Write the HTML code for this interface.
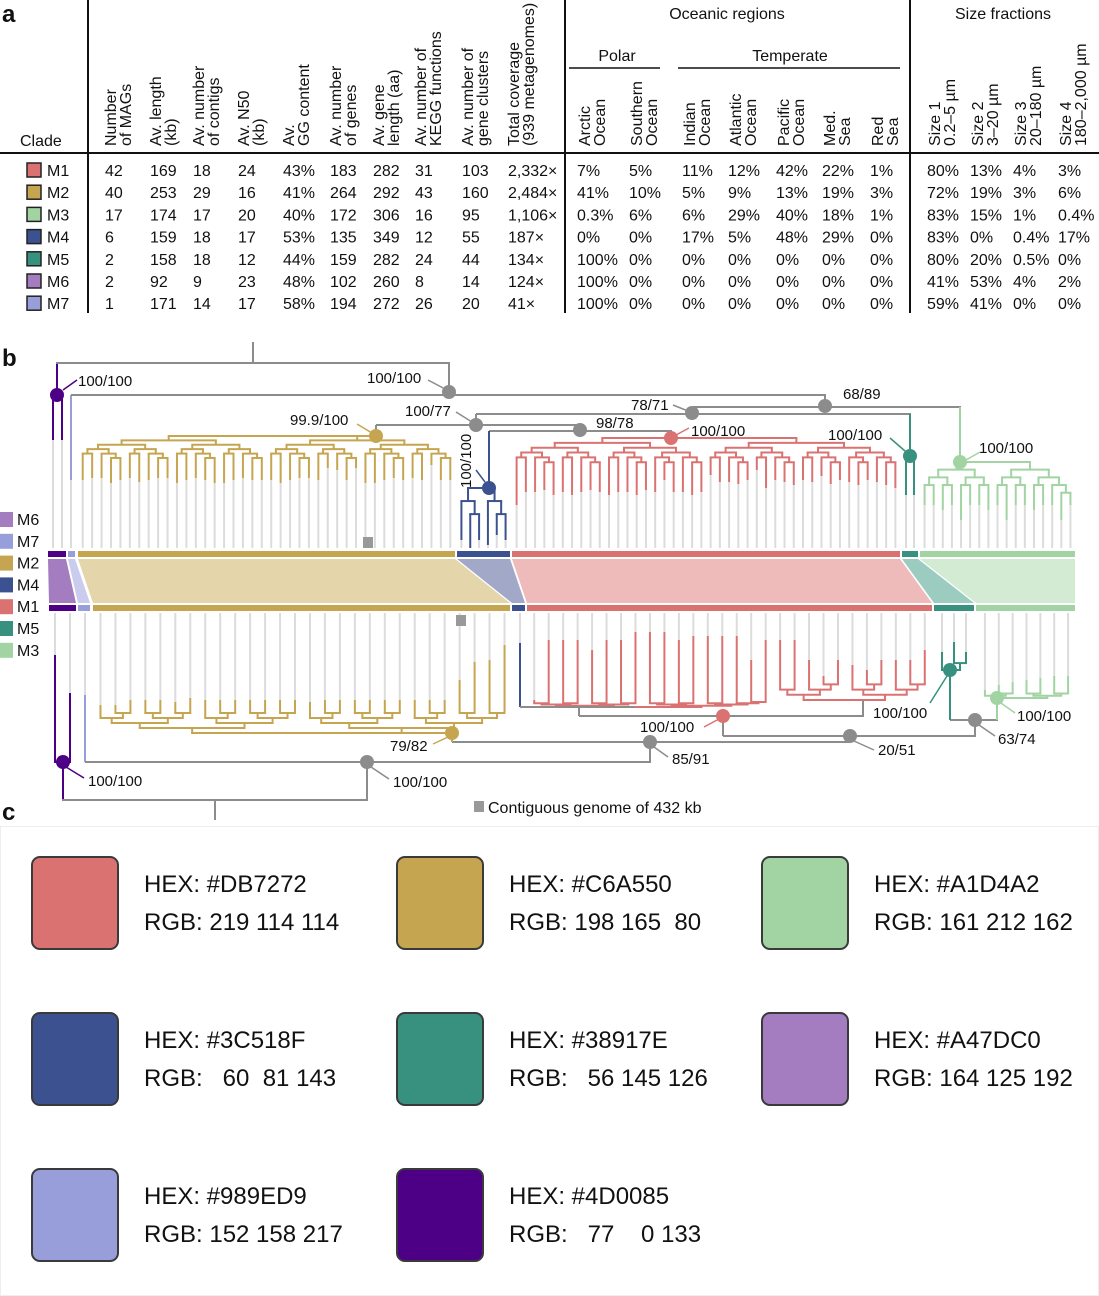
<!DOCTYPE html>
<html><head><meta charset="utf-8">
<style>
html,body{margin:0;padding:0;background:#fff;}
body{width:1099px;height:1296px;overflow:hidden;position:relative;font-family:"Liberation Sans",sans-serif;}
svg text{font-family:"Liberation Sans",sans-serif;}
.sw{position:absolute;width:84px;height:90px;border:2px solid #3a3a3a;border-radius:9px;}
.tx{position:absolute;font-family:"Liberation Sans",sans-serif;font-size:24px;color:#111;white-space:pre;line-height:38px;}
</style></head>
<body>
<svg id="fig" width="1099" height="1296" viewBox="0 0 1099 1296" style="position:absolute;left:0;top:0"></svg>

<div style="position:absolute;left:0;top:826px;width:1097px;height:468px;border:1px solid #eee;"></div>

<div class="sw" style="left:31px;top:856px;background:#DB7272"></div>
<div class="tx" style="left:144px;top:866px">HEX: #DB7272
RGB: 219 114 114</div>
<div class="sw" style="left:396px;top:856px;background:#C6A550"></div>
<div class="tx" style="left:509px;top:866px">HEX: #C6A550
RGB: 198 165  80</div>
<div class="sw" style="left:761px;top:856px;background:#A1D4A2"></div>
<div class="tx" style="left:874px;top:866px">HEX: #A1D4A2
RGB: 161 212 162</div>

<div class="sw" style="left:31px;top:1012px;background:#3C518F"></div>
<div class="tx" style="left:144px;top:1022px">HEX: #3C518F
RGB:   60  81 143</div>
<div class="sw" style="left:396px;top:1012px;background:#38917E"></div>
<div class="tx" style="left:509px;top:1022px">HEX: #38917E
RGB:   56 145 126</div>
<div class="sw" style="left:761px;top:1012px;background:#A47DC0"></div>
<div class="tx" style="left:874px;top:1022px">HEX: #A47DC0
RGB: 164 125 192</div>

<div class="sw" style="left:31px;top:1168px;background:#989ED9"></div>
<div class="tx" style="left:144px;top:1178px">HEX: #989ED9
RGB: 152 158 217</div>
<div class="sw" style="left:396px;top:1168px;background:#4D0085"></div>
<div class="tx" style="left:509px;top:1178px">HEX: #4D0085
RGB:   77    0 133</div>

<script>
const clades = ["M1","M2","M3","M4","M5","M6","M7"];
const cladeColors = ["#DB7272","#C6A550","#A1D4A2","#3C518F","#38917E","#A47DC0","#989ED9"];
const statHeaders = [["Number","of MAGs"],["Av. length","(kb)"],["Av. number","of contigs"],["Av. N50","(kb)"],["Av.","GG content"],["Av. number","of genes"],["Av. gene","length (aa)"],["Av. number of","KEGG functions"],["Av. number of","gene clusters"],["Total coverage","(939 metagenomes)"]];
const regionHeaders = [["Arctic","Ocean"],["Southern","Ocean"],["Indian","Ocean"],["Atlantic","Ocean"],["Pacific","Ocean"],["Med.","Sea"],["Red","Sea"],["Size 1","0.2–5 µm"],["Size 2","3–20 µm"],["Size 3","20–180 µm"],["Size 4","180–2,000 µm"]];
const statRows = [
 ["42","169","18","24","43%","183","282","31","103","2,332×"],
 ["40","253","29","16","41%","264","292","43","160","2,484×"],
 ["17","174","17","20","40%","172","306","16","95","1,106×"],
 ["6","159","18","17","53%","135","349","12","55","187×"],
 ["2","158","18","12","44%","159","282","24","44","134×"],
 ["2","92","9","23","48%","102","260","8","14","124×"],
 ["1","171","14","17","58%","194","272","26","20","41×"]];
const regionRows = [
 ["7%","5%","11%","12%","42%","22%","1%","80%","13%","4%","3%"],
 ["41%","10%","5%","9%","13%","19%","3%","72%","19%","3%","6%"],
 ["0.3%","6%","6%","29%","40%","18%","1%","83%","15%","1%","0.4%"],
 ["0%","0%","17%","5%","48%","29%","0%","83%","0%","0.4%","17%"],
 ["100%","0%","0%","0%","0%","0%","0%","80%","20%","0.5%","0%"],
 ["100%","0%","0%","0%","0%","0%","0%","41%","53%","4%","2%"],
 ["100%","0%","0%","0%","0%","0%","0%","59%","41%","0%","0%"]];
const statX = [105,150,193,238,283,330,373,415,462,508];
const regionX = [577,629,682,728,776,822,870,927,970,1013,1058];

const topM2Tips = [480,478,478,483,480,478,482,480,478,478,483,480,478,480,483,483,480,478,480,480,480,483,480,478,478,480,468,470,480,468,483,483,480,478,480,478,480,465,480,480];
const topM1Tips = [505,492,492,490,495,492,495,492,490,492,495,492,492,495,490,492,480,492,492,495,492,475,482,482,484,480,470,488,480,482,485,480,482,476,484,480,482,485,480,482,485,488];
const topM4Tips = [540,548,540,545,535,540];
const topM3Tips = [505,505,510,505,520,505,505,510,505,520,505,505,510,505,505,520,505];
const topM5Tips = [495,495];
const botM2Tips = [705,705,700,700,700,702,698,700,700,700,700,700,700,700,702,700,700,700,700,700,700,700,700,700,680,662,660,645];
const botM1Tips = [700,640,640,640,650,640,640,632,632,632,640,636,636,636,636,660,640,640,640,660,676,660,665,670,660,660,660,650];
const botM5Tips = [652,642,652];
const botM3Tips = [690,685,682,680,678,676,676];

const svg = document.getElementById('fig');
const NS = "http://www.w3.org/2000/svg";
function mk(tag, attrs, name, parent){
  const el = document.createElementNS(NS, tag);
  for (const k in attrs) el.setAttribute(k, attrs[k]);
  
  
  (parent||svg).appendChild(el);
  return el;
}
function line(x1,y1,x2,y2,c,w,name){ return mk('line',{x1:x1,y1:y1,x2:x2,y2:y2,stroke:c,'stroke-width':w||2,'stroke-linecap':'butt'},name||'branch'); }
function text(x,y,s,opts,name){
  const t = mk('text',Object.assign({x:x,y:y,'font-size':16,fill:'#111'},opts||{}),name||'label');
  t.textContent = s; return t;
}

text(2,22,"a",{'font-size':24,'font-weight':'bold'},'panel-a-letter');
line(88,0,88,313,'#111',2,'table-divider-left');
line(565,0,565,313,'#111',2,'table-divider-regions');
line(910,0,910,313,'#111',2,'table-divider-sizes');
line(0,153,1099,153,'#111',2,'table-header-rule');
text(20,146,"Clade",{},'clade-header');
text(727,19,"Oceanic regions",{'text-anchor':'middle'},'oceanic-regions-header');
text(1003,19,"Size fractions",{'text-anchor':'middle'},'size-fractions-header');
text(617,61,"Polar",{'text-anchor':'middle'},'polar-header');
line(569,68,660,68,'#111',1.5,'polar-rule');
text(790,61,"Temperate",{'text-anchor':'middle'},'temperate-header');
line(678,68,900,68,'#111',1.5,'temperate-rule');

function rotHeader(x, lines, name){
  lines.forEach((s,i)=>{
    const bx = x + 12 + i*15;
    const t = mk('text',{x:0,y:0,'font-size':16,fill:'#111',transform:'translate('+bx+',146) rotate(-90)'},name+'-line'+(i+1));
    t.textContent = s;
  });
}
statHeaders.forEach((h,i)=>rotHeader(statX[i]-1,h,'stat-header-'+i));
regionHeaders.forEach((h,i)=>rotHeader(regionX[i]+1,h,'region-header-'+i));

clades.forEach((c,r)=>{
  const cy = 170 + r*22.2;
  mk('rect',{x:27,y:cy-7,width:14,height:14,fill:cladeColors[r],stroke:'#222','stroke-width':1.5},'table-legend-'+c);
  text(47,cy+6,c,{},'row-label-'+c);
  statRows[r].forEach((v,j)=>text(statX[j],cy+6,v,{},'cell-'+c+'-stat'+j));
  regionRows[r].forEach((v,j)=>text(regionX[j],cy+6,v,{},'cell-'+c+'-region'+j));
});

text(2,366,"b",{'font-size':24,'font-weight':'bold'},'panel-b-letter');
text(2,820,"c",{'font-size':24,'font-weight':'bold'},'panel-c-letter');

const GRAY='#8c8c8c', TIP='#dcdcdc';
const C = {M1:'#DB7272',M2:'#C6A550',M3:'#A1D4A2',M4:'#3C518F',M5:'#38917E',M6:'#4D0085',M7:'#989ED9'};
const RIB = {M1:'#efbaba',M2:'#e4d5aa',M3:'#d2ebd2',M4:'#a2a9c8',M5:'#9ccbc0',M6:'#A47DC0',M7:'#c9cced'};

function xsFor(a,b,n){ const r=[]; for(let i=0;i<n;i++) r.push(a+(i+0.5)*(b-a)/n); return r; }

function buildTree(xs, ys, rootX, rootY, color, name){
  const n = xs.length;
  const levels = Math.max(1, Math.ceil(Math.log2(n)));
  const dir = ys[0] > rootY ? 1 : -1;
  const base = dir>0 ? Math.min.apply(null,ys) : Math.max.apply(null,ys);
  function rec(lo,hi,d){
    if (hi-lo===1) return {x:xs[lo], y:ys[lo]};
    const mid = Math.floor((lo+hi)/2);
    const l = rec(lo,mid,d+1), r = rec(mid,hi,d+1);
    const y = d===0 ? rootY : rootY + (base-rootY)*d/(levels+0.6);
    line(l.x,y,l.x,l.y,color,2,name+'-branch');
    line(r.x,y,r.x,r.y,color,2,name+'-branch');
    const xa = d===0 ? Math.min(l.x,rootX) : l.x, xb = d===0 ? Math.max(r.x,rootX) : r.x;
    line(xa-1,y,xb+1,y,color,2,name+'-branch');
    return {x:(l.x+r.x)/2, y:y};
  }
  if (n===1){ line(xs[0],rootY,xs[0],ys[0],color,2,name+'-branch'); return; }
  rec(0,n,0);
}
function tips(xs, ys, yEdge, name){
  xs.forEach((x,i)=>line(x,ys[i],x,yEdge,TIP,2,name+'-tip'));
}
function node(x,y,c,name){ mk('circle',{cx:x,cy:y,r:7,fill:c},name); }

const tM6x=[53,62], tM7x=[71];
const tM2x=xsFor(78,455,40), tM4x=xsFor(457,510,6), tM1x=xsFor(512,900,42), tM5x=xsFor(902,918,2), tM3x=xsFor(920,1075,17);
tips(tM6x,[440,440],548,'top-M6'); tips(tM7x,[480],548,'top-M7');
tips(tM2x,topM2Tips,548,'top-M2'); tips(tM4x,topM4Tips,548,'top-M4');
tips(tM1x,topM1Tips,548,'top-M1'); tips(tM5x,topM5Tips,548,'top-M5'); tips(tM3x,topM3Tips,548,'top-M3');
buildTree(tM6x,[440,440],57,395,C.M6,'top-M6');
line(57,363,57,395,C.M6,2,'top-M6-stem');
line(71,395,71,480,C.M7,2,'top-M7-branch');
buildTree(tM2x,topM2Tips,376,436,C.M2,'top-M2');
buildTree(tM4x,topM4Tips,489,488,C.M4,'top-M4');
buildTree(tM1x,topM1Tips,671,438,C.M1,'top-M1');
buildTree(tM5x,topM5Tips,910,456,C.M5,'top-M5');
buildTree(tM3x,topM3Tips,960,462,C.M3,'top-M3');
line(253,342,253,363,GRAY,2,'top-root-stem');
line(56,363,450,363,GRAY,2,'top-root-bar');
line(449,363,449,395,GRAY,2,'top-backbone');
line(71,395,826,395,GRAY,2,'top-backbone');
line(825,395,825,407,GRAY,2,'top-backbone');
line(692,407,961,407,GRAY,2,'top-backbone');
line(960,407,960,462,C.M3,2,'top-M3-stem');
line(692,407,692,414,GRAY,2,'top-backbone');
line(476,414,911,414,GRAY,2,'top-backbone');
line(910,414,910,456,C.M5,2,'top-M5-stem');
line(476,414,476,425,GRAY,2,'top-backbone');
line(376,425,581,425,GRAY,2,'top-backbone');
line(376,425,376,436,GRAY,2,'top-backbone');
line(580,425,580,431,GRAY,2,'top-backbone');
line(489,431,672,431,GRAY,2,'top-backbone');
line(489,431,489,488,C.M4,2,'top-M4-stem');
line(671,431,671,438,GRAY,2,'top-backbone');
node(57,395,C.M6,'top-node-M6'); node(449,392,GRAY,'top-node-100-100');
node(376,436,C.M2,'top-node-M2'); node(476,425,GRAY,'top-node-100-77');
node(580,430,GRAY,'top-node-98-78'); node(489,488,C.M4,'top-node-M4');
node(671,438,C.M1,'top-node-M1'); node(692,413,GRAY,'top-node-78-71');
node(825,406,GRAY,'top-node-68-89'); node(910,456,C.M5,'top-node-M5'); node(960,462,C.M3,'top-node-M3');
const LF={'font-size':15};
text(78,386,"100/100",LF,'label-top-M6'); line(63,390,77,380,C.M6,1.5,'leader');
text(367,383,"100/100",LF,'label-top-100-100'); line(428,380,445,389,GRAY,1.5,'leader');
text(405,416,"100/77",LF,'label-top-100-77'); line(456,412,472,422,GRAY,1.5,'leader');
text(290,425,"99.9/100",LF,'label-top-M2'); line(357,424,372,433,C.M2,1.5,'leader');
text(596,428,"98/78",LF,'label-top-98-78');
text(631,410,"78/71",LF,'label-top-78-71'); line(673,405,688,411,GRAY,1.5,'leader');
text(843,399,"68/89",LF,'label-top-68-89');
text(691,436,"100/100",LF,'label-top-M1'); line(676,435,689,428,C.M1,1.5,'leader');
text(828,440,"100/100",LF,'label-top-M5'); line(890,438,905,451,C.M5,1.5,'leader');
text(979,453,"100/100",LF,'label-top-M3'); line(966,460,980,452,C.M3,1.5,'leader');
mk('text',{x:0,y:0,'font-size':15,fill:'#111',transform:'translate(471,488) rotate(-90)'},'label-top-M4').textContent="100/100";
line(476,470,485,482,C.M4,1.5,'leader');
mk('rect',{x:363,y:537,width:10,height:11,fill:'#999'},'contiguous-genome-marker-top');

const topRange = {M6:[48,66],M7:[68,75],M2:[78,455],M4:[457,510],M1:[512,900],M5:[902,918],M3:[920,1075]};
const botRange = {M6:[49,76],M7:[78,90],M2:[93,510],M4:[512,525],M1:[527,932],M5:[934,974],M3:[976,1075]};
Object.keys(topRange).forEach(k=>{
  const a=topRange[k], b=botRange[k];
  mk('rect',{x:a[0],y:551,width:a[1]-a[0],height:6,fill:C[k]},'strip-top-'+k);
  mk('rect',{x:b[0],y:605,width:b[1]-b[0],height:6,fill:C[k]},'strip-bottom-'+k);
  mk('polygon',{points:a[0]+',559 '+a[1]+',559 '+b[1]+',603 '+b[0]+',603',fill:RIB[k]},'ribbon-'+k);
});
const legOrder=["M6","M7","M2","M4","M1","M5","M3"];
const legFill={M6:'#A47DC0',M7:'#989ED9',M2:C.M2,M4:C.M4,M1:C.M1,M5:C.M5,M3:C.M3};
legOrder.forEach((k,i)=>{
  const cy=519+i*21.8;
  mk('rect',{x:0,y:cy-7,width:13,height:15,fill:legFill[k]},'legend-swatch-'+k);
  text(17,cy+6,k,{'font-size':16},'legend-label-'+k);
});

const bM6x=[55,70], bM7x=[85], bM2x=xsFor(93,512,28), bM4x=[520], bM1x=xsFor(527,932,28), bM5x=xsFor(936,972,3), bM3x=xsFor(978,1075,7);
tips(bM6x,[655,693],613,'bottom-M6'); tips(bM7x,[695],613,'bottom-M7');
tips(bM2x,botM2Tips,613,'bottom-M2'); tips(bM4x,[643],613,'bottom-M4');
tips(bM1x,botM1Tips,613,'bottom-M1'); tips(bM5x,botM5Tips,613,'bottom-M5'); tips(bM3x,botM3Tips,613,'bottom-M3');
buildTree(bM6x,[655,693],63,762,C.M6,'bottom-M6');
line(63,762,63,800,C.M6,2,'bottom-M6-stem');
line(85,695,85,762,C.M7,2,'bottom-M7-branch');
buildTree(bM2x,botM2Tips,452,733,C.M2,'bottom-M2');
line(520,643,520,707,C.M4,2,'bottom-M4-branch');
buildTree(bM1x.slice(0,17),botM1Tips.slice(0,17),633,707,C.M1,'bottom-M1a');
buildTree(bM1x.slice(17),botM1Tips.slice(17),863,700,C.M1,'bottom-M1b');
buildTree(bM5x,botM5Tips,950,670,C.M5,'bottom-M5');
buildTree(bM3x,botM3Tips,997,698,C.M3,'bottom-M3');
line(215,800,215,820,GRAY,2,'bottom-root-stem');
line(62,800,368,800,GRAY,2,'bottom-root-bar');
line(367,762,367,800,GRAY,2,'bottom-backbone');
line(85,762,651,762,GRAY,2,'bottom-backbone');
line(650,742,650,762,GRAY,2,'bottom-backbone');
line(452,742,851,742,GRAY,2,'bottom-backbone');
line(452,733,452,742,C.M2,2,'bottom-M2-stem');
line(850,736,850,742,GRAY,2,'bottom-backbone');
line(723,736,976,736,GRAY,2,'bottom-backbone');
line(723,716,723,736,GRAY,2,'bottom-backbone');
line(579,716,864,716,GRAY,2,'bottom-backbone');
line(863,700,863,716,GRAY,2,'bottom-backbone');
line(579,707,579,716,GRAY,2,'bottom-backbone');
line(520,707,634,707,GRAY,2,'bottom-backbone');
line(975,720,975,736,GRAY,2,'bottom-backbone');
line(950,720,998,720,GRAY,2,'bottom-backbone');
line(950,670,950,720,C.M5,2,'bottom-M5-stem');
line(997,698,997,720,C.M3,2,'bottom-M3-stem');
node(63,762,C.M6,'bottom-node-M6'); node(367,762,GRAY,'bottom-node-100-100');
node(650,742,GRAY,'bottom-node-85-91'); node(452,733,C.M2,'bottom-node-M2');
node(850,736,GRAY,'bottom-node-20-51'); node(723,716,C.M1,'bottom-node-M1');
node(975,720,GRAY,'bottom-node-63-74'); node(950,670,C.M5,'bottom-node-M5'); node(997,698,C.M3,'bottom-node-M3');
text(88,786,"100/100",LF,'label-bottom-M6'); line(66,767,84,778,C.M6,1.5,'leader');
text(393,787,"100/100",LF,'label-bottom-100-100'); line(371,767,389,779,GRAY,1.5,'leader');
text(672,764,"85/91",LF,'label-bottom-85-91'); line(654,747,668,757,GRAY,1.5,'leader');
text(390,751,"79/82",LF,'label-bottom-M2'); line(433,744,448,737,C.M2,1.5,'leader');
text(878,755,"20/51",LF,'label-bottom-20-51'); line(854,741,874,750,GRAY,1.5,'leader');
text(640,732,"100/100",LF,'label-bottom-M1'); line(704,727,719,719,C.M1,1.5,'leader');
text(998,744,"63/74",LF,'label-bottom-63-74'); line(979,725,995,736,GRAY,1.5,'leader');
text(873,718,"100/100",LF,'label-bottom-M5'); line(930,703,947,676,C.M5,1.5,'leader');
text(1017,721,"100/100",LF,'label-bottom-M3'); line(1001,703,1015,713,C.M3,1.5,'leader');
mk('rect',{x:456,y:615,width:10,height:11,fill:'#999'},'contiguous-genome-marker-bottom');
mk('rect',{x:474,y:801,width:10,height:11,fill:'#999'},'contiguous-genome-legend-swatch');
text(488,813,"Contiguous genome of 432 kb",{'font-size':16},'contiguous-genome-legend-label');
</script>
</body></html>
